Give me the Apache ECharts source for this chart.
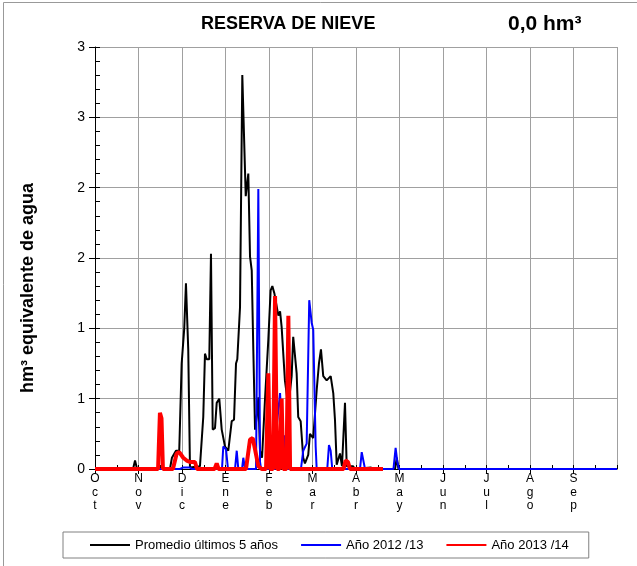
<!DOCTYPE html>
<html><head><meta charset="utf-8">
<script src="https://cdn.jsdelivr.net/npm/echarts@6/dist/echarts.min.js"></script>
<style>html,body{margin:0;padding:0;background:#fff}#c{width:637px;height:566px}</style>
</head><body><div id="c"></div>
<script>
// Month tick labels (hydrological year Oct..Sep)
const monthLabels = ['Oct','Nov','Dic','Ene','Feb','Mar','Abr','May','Jun','Jul','Ago','Sep'];

// Promedio últimos 5 años: day of hydrological year, hm3
const promDays = [0,26.6,28.0,29.4,52.4,53.8,56.6,58.9,60.6,62.4,63.6,65.2,66.4,73.4,75.7,76.9,78.1,79.9,81.1,82.3,83.9,85.1,86.9,88.6,90.9,93.2,95.6,97.2,98.6,99.5,101.4,103.0,105.4,107.2,108.4,109.6,110.7,111.9,113.1,114.2,115.4,116.8,118.9,121.2,122.8,124.0,125.4,128.2,129.4,130.5,132.8,135.2,137.5,138.6,141.0,142.1,143.8,145.6,146.8,149.1,150.3,152.6,155.0,156.6,158.0,159.6,162.0,164.8,166.6,167.8,169.0,171.3,172.7,174.8,176.0,180.4,181.8,193.0,194.4,209.8,211.0,212.2,365];
const promVals = [0,0,0.06,0,0,0.08,0.13,0.13,0.75,1.0,1.32,0.85,0.01,0.02,0.37,0.82,0.78,0.78,1.53,0.28,0.29,0.47,0.5,0.28,0.16,0.13,0.34,0.35,0.75,0.78,1.15,2.80,1.94,2.10,1.51,1.41,0.85,0.28,0.37,0.51,0.13,0.08,0.5,0.92,1.27,1.30,1.25,1.09,1.12,1.01,0.63,0.44,0.66,0.94,0.68,0.37,0.34,0.08,0.04,0.1,0.25,0.22,0.56,0.75,0.85,0.66,0.63,0.66,0.54,0.35,0.03,0.11,0.02,0.47,0.02,0.02,0,0.01,0,0,0.08,0,0];

// Año 2012/13
const a1213Days = [0,59.4,61.5,66.4,67.8,88.8,89.7,91.6,93.0,97.9,99.1,100.2,102.8,103.7,104.9,112.6,114.2,115.4,116.1,125.9,127.0,129.4,130.5,131.7,132.8,133.9,144.0,145.6,148.0,149.8,151.5,152.6,154.3,155.0,162.4,163.6,164.8,165.9,185.3,186.5,187.6,188.8,208.7,210.2,211.4,212.6,365];
const a1213Vals = [0,0,0.01,0.01,0,0,0.16,0.14,0,0,0.13,0,0,0.08,0,0,1.99,0.05,0,0,0.3,0.54,0.54,0.1,0.24,0,0,0.13,0.18,1.20,1.04,0.99,0.16,0,0,0.17,0.13,0,0,0.12,0.12,0,0,0.15,0.05,0,0];

// Año 2013/14 (to date)
const a1314Days = [0,44.1,45.4,46.5,47.5,54.5,57.1,58.9,61.7,64.1,66.4,69.9,71.3,83.6,85.1,86.4,105.6,108.4,110.3,111.9,114.2,116.6,119.6,121.2,122.4,124.5,125.9,127.3,129.0,130.5,131.6,133.9,135.2,136.4,173.8,175.2,176.9,178.3,201.4];
const a1314Vals = [0,0,0.40,0.36,0,0,0.11,0.12,0.08,0.06,0.05,0.05,0,0,0.04,0,0,0.21,0.22,0.14,0.02,0,0,0.68,0,0,1.23,0,0,0.5,0,0,1.09,0,0,0.06,0.05,0,0];

const zip = (d, v) => d.map((x, i) => [x, v[i]]);
const FONT = 'Liberation Sans, Arial, sans-serif';
const grid = '#a0a0a0';

const chart = echarts.init(document.getElementById('c'), null, {renderer: 'canvas'});
chart.setOption({
  animation: false,
  backgroundColor: '#fff',
  grid: {left: 95, right: 20, top: 47, bottom: 97, containLabel: false},
  xAxis: [{
    type: 'value', min: 0, max: 365, interval: 365 / 12, position: 'bottom',
    axisLine: {show: true, onZero: false, lineStyle: {color: '#000', width: 1}},
    axisTick: {show: true, inside: false, length: 5, lineStyle: {color: '#000'}},
    axisLabel: {
      margin: 3, color: '#000', fontFamily: FONT, fontSize: 12, lineHeight: 13.5, showMaxLabel: false,
      formatter: v => { const i = Math.round(v / (365 / 12)); return i < 12 ? monthLabels[i].split('').join('\n') : ''; }
    },
    splitLine: {show: true, lineStyle: {color: grid, width: 1}}
  }, {
    type: 'value', min: 0, max: 365, interval: 365 / 24, position: 'bottom',
    axisLine: {show: false}, axisLabel: {show: false}, splitLine: {show: false},
    axisTick: {show: true, inside: true, length: 4, lineStyle: {color: '#000'}}
  }],
  yAxis: [{
    type: 'value', min: 0, max: 3, interval: 0.5, position: 'left',
    axisLine: {show: true, onZero: false, lineStyle: {color: '#000', width: 1}},
    axisTick: {show: true, inside: false, length: 6, lineStyle: {color: '#000'}},
    axisLabel: {margin: 10, color: '#000', fontFamily: FONT, fontSize: 14, formatter: v => String(Math.round(v))},
    splitLine: {show: true, lineStyle: {color: grid, width: 1}}
  }, {
    type: 'value', min: 0, max: 3, interval: 0.1, position: 'left',
    axisLine: {show: false}, axisLabel: {show: false}, splitLine: {show: false},
    axisTick: {show: true, inside: true, length: 5, lineStyle: {color: '#000'}}
  }],
  legend: {
    left: 63, top: 532, orient: 'horizontal',
    padding: [6, 20, 6, 26], itemGap: 22, itemWidth: 40, itemHeight: 2,
    itemStyle: {opacity: 0},
    borderColor: '#808080', borderWidth: 1,
    textStyle: {fontFamily: FONT, fontSize: 13, color: '#000', lineHeight: 14},
    data: ['Promedio últimos 5 años', 'Año 2012 /13', 'Año 2013 /14']
  },
  graphic: [
    {type: 'rect', silent: true, shape: {x: 3.5, y: 2.5, width: 700, height: 700}, style: {fill: 'none', stroke: '#999', lineWidth: 1}},
    {type: 'text', x: 201, y: 24, style: {text: 'RESERVA DE NIEVE', font: 'bold 18px ' + FONT, fill: '#000', verticalAlign: 'middle'}},
    {type: 'text', x: 508, y: 24, style: {text: '0,0 hm³', font: 'bold 21px ' + FONT, fill: '#000', verticalAlign: 'middle'}},
    {type: 'text', x: 28, y: 288, rotation: Math.PI / 2, style: {text: 'hm³ equivalente de agua', font: 'bold 18px ' + FONT, fill: '#000', align: 'center', verticalAlign: 'middle'}}
  ],
  series: [
    {name: 'Promedio últimos 5 años', type: 'line', data: zip(promDays, promVals), showSymbol: false, symbol: 'none',
     lineStyle: {color: '#000', width: 2}, itemStyle: {color: '#000'}, z: 2},
    {name: 'Año 2012 /13', type: 'line', data: zip(a1213Days, a1213Vals), showSymbol: false, symbol: 'none',
     lineStyle: {color: '#0000ff', width: 2}, itemStyle: {color: '#0000ff'}, z: 3},
    {name: 'Año 2013 /14', type: 'line', data: zip(a1314Days, a1314Vals), showSymbol: false, symbol: 'none',
     lineStyle: {color: '#ff0000', width: 4}, itemStyle: {color: '#ff0000'}, z: 4}
  ]
});
</script></body></html>
